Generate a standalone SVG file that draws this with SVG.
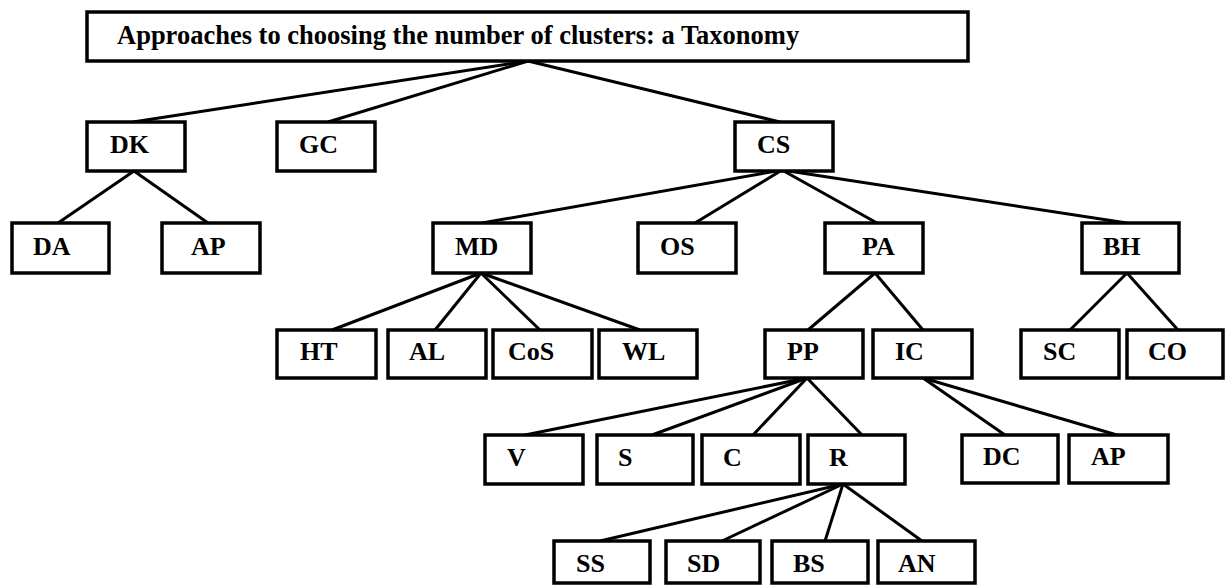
<svg xmlns="http://www.w3.org/2000/svg" width="1225" height="585" viewBox="0 0 1225 585">
<style>
.box{fill:#fff;stroke:#000;stroke-width:3.5}
.lbl{font-family:"Liberation Serif","Times New Roman",serif;font-weight:bold;font-size:26px;fill:#000}
.title{font-size:26.5px}
.conn line{stroke:#000;stroke-width:3}
</style>
<rect width="1225" height="585" fill="#fff"/>
<g class="conn">
<line x1="528" y1="61" x2="133" y2="122"/>
<line x1="528" y1="61" x2="328" y2="122"/>
<line x1="528" y1="61" x2="780" y2="122"/>
<line x1="134" y1="171" x2="58" y2="223"/>
<line x1="134" y1="171" x2="208" y2="223"/>
<line x1="782" y1="170" x2="482" y2="223"/>
<line x1="782" y1="170" x2="695" y2="223"/>
<line x1="782" y1="170" x2="877" y2="223"/>
<line x1="782" y1="170" x2="1127" y2="223"/>
<line x1="481" y1="273" x2="332" y2="330"/>
<line x1="481" y1="273" x2="435" y2="330"/>
<line x1="481" y1="273" x2="540" y2="330"/>
<line x1="481" y1="273" x2="640" y2="330"/>
<line x1="875" y1="273" x2="808" y2="330"/>
<line x1="875" y1="273" x2="923" y2="330"/>
<line x1="1127" y1="273" x2="1070" y2="330"/>
<line x1="1127" y1="273" x2="1178" y2="330"/>
<line x1="807" y1="378" x2="525" y2="435"/>
<line x1="807" y1="378" x2="652" y2="435"/>
<line x1="807" y1="378" x2="753" y2="435"/>
<line x1="807" y1="378" x2="862" y2="435"/>
<line x1="923" y1="378" x2="1005" y2="435"/>
<line x1="923" y1="378" x2="1117" y2="435"/>
<line x1="843" y1="484" x2="600" y2="541"/>
<line x1="843" y1="484" x2="722" y2="541"/>
<line x1="843" y1="484" x2="825" y2="541"/>
<line x1="843" y1="484" x2="922" y2="541"/>
</g>
<g id="title"><rect class="box" x="87" y="12" width="881" height="49"/><text class="lbl title" x="117" y="44">Approaches to choosing the number of clusters: a Taxonomy</text></g>
<g id="DK"><rect class="box" x="87" y="122" width="98" height="49"/><text class="lbl" x="110" y="153">DK</text></g>
<g id="GC"><rect class="box" x="277" y="122" width="98" height="49"/><text class="lbl" x="299" y="153">GC</text></g>
<g id="CS"><rect class="box" x="735" y="122" width="98" height="49"/><text class="lbl" x="757" y="153">CS</text></g>
<g id="DA"><rect class="box" x="12" y="223" width="97" height="50"/><text class="lbl" x="33" y="255">DA</text></g>
<g id="AP1"><rect class="box" x="162" y="223" width="98" height="50"/><text class="lbl" x="191" y="255">AP</text></g>
<g id="MD"><rect class="box" x="433" y="223" width="98" height="50"/><text class="lbl" x="455" y="255">MD</text></g>
<g id="OS"><rect class="box" x="638" y="223" width="98" height="50"/><text class="lbl" x="660" y="255">OS</text></g>
<g id="PA"><rect class="box" x="825" y="223" width="98" height="50"/><text class="lbl" x="862" y="255">PA</text></g>
<g id="BH"><rect class="box" x="1082" y="223" width="97" height="50"/><text class="lbl" x="1103" y="255">BH</text></g>
<g id="HT"><rect class="box" x="277" y="330" width="99" height="48"/><text class="lbl" x="300" y="360">HT</text></g>
<g id="AL"><rect class="box" x="388" y="330" width="98" height="48"/><text class="lbl" x="409" y="360">AL</text></g>
<g id="CoS"><rect class="box" x="493" y="330" width="99" height="48"/><text class="lbl" x="508" y="360">CoS</text></g>
<g id="WL"><rect class="box" x="599" y="330" width="98" height="48"/><text class="lbl" x="622" y="360">WL</text></g>
<g id="PP"><rect class="box" x="765" y="330" width="98" height="48"/><text class="lbl" x="787" y="360">PP</text></g>
<g id="IC"><rect class="box" x="873" y="330" width="99" height="48"/><text class="lbl" x="895" y="360">IC</text></g>
<g id="SC"><rect class="box" x="1021" y="330" width="98" height="48"/><text class="lbl" x="1043" y="360">SC</text></g>
<g id="CO"><rect class="box" x="1127" y="330" width="96" height="48"/><text class="lbl" x="1148" y="360">CO</text></g>
<g id="V"><rect class="box" x="485" y="435" width="98" height="49"/><text class="lbl" x="507" y="466">V</text></g>
<g id="S"><rect class="box" x="597" y="435" width="96" height="49"/><text class="lbl" x="618" y="466">S</text></g>
<g id="C"><rect class="box" x="702" y="435" width="98" height="49"/><text class="lbl" x="723" y="466">C</text></g>
<g id="R"><rect class="box" x="808" y="435" width="97" height="49"/><text class="lbl" x="829" y="466">R</text></g>
<g id="DC"><rect class="box" x="962" y="435" width="96" height="48"/><text class="lbl" x="983" y="465">DC</text></g>
<g id="AP2"><rect class="box" x="1069" y="435" width="99" height="48"/><text class="lbl" x="1091" y="465">AP</text></g>
<g id="SS"><rect class="box" x="554" y="541" width="96" height="42"/><text class="lbl" x="576" y="572">SS</text></g>
<g id="SD"><rect class="box" x="666" y="541" width="94" height="42"/><text class="lbl" x="687" y="572">SD</text></g>
<g id="BS"><rect class="box" x="772" y="541" width="96" height="42"/><text class="lbl" x="793" y="572">BS</text></g>
<g id="AN"><rect class="box" x="878" y="541" width="97" height="42"/><text class="lbl" x="898" y="572">AN</text></g>
</svg>
